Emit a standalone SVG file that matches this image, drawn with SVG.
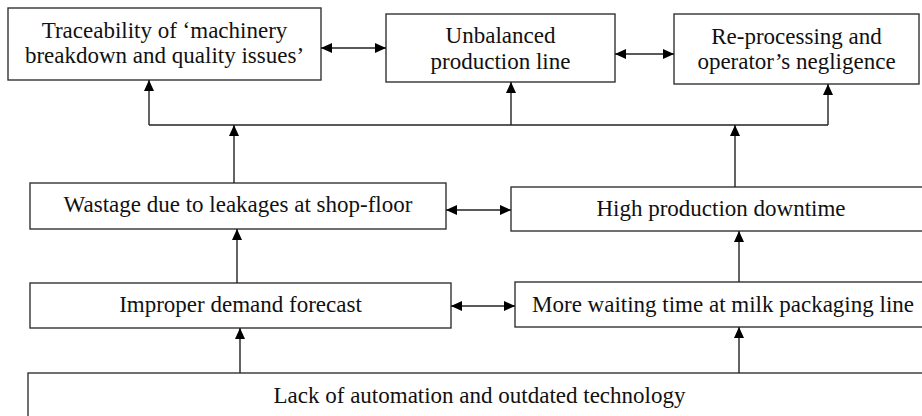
<svg xmlns="http://www.w3.org/2000/svg" width="922" height="416" viewBox="0 0 922 416">
  <defs>
    <marker id="ah" markerUnits="userSpaceOnUse" markerWidth="11" markerHeight="10" refX="11" refY="5" orient="auto-start-reverse">
      <path d="M0,0 L11,5 L0,10 Z" fill="#000"/>
    </marker>
  </defs>
  <style>
    .box { fill: #fff; stroke: #333; stroke-width: 1.4; }
    .lbl { font-family: "Liberation Serif", "Times New Roman", serif; font-size: 23px; fill: #111; text-anchor: middle; }
    .con { fill: none; stroke: #222; stroke-width: 1.4; }
    .arr { marker-end: url(#ah); }
    .bi { marker-start: url(#ah); marker-end: url(#ah); }
  </style>
  <rect width="922" height="416" fill="#fff"/>

  <g id="traceability">
    <rect class="box" x="8" y="8" width="313" height="72"/>
    <text class="lbl" x="164.5" y="38">Traceability of ‘machinery</text>
    <text class="lbl" x="164.5" y="63">breakdown and quality issues’</text>
  </g>
  <g id="unbalanced">
    <rect class="box" x="386" y="14" width="229" height="68"/>
    <text class="lbl" x="500.5" y="43">Unbalanced</text>
    <text class="lbl" x="500.5" y="69">production line</text>
  </g>
  <g id="reprocessing">
    <rect class="box" x="674" y="14" width="245" height="70"/>
    <text class="lbl" x="796.5" y="44">Re-processing and</text>
    <text class="lbl" x="796.5" y="69">operator’s negligence</text>
  </g>
  <g id="wastage">
    <rect class="box" x="30" y="183" width="416" height="46"/>
    <text class="lbl" x="238" y="212">Wastage due to leakages at shop-floor</text>
  </g>
  <g id="downtime">
    <rect class="box" x="511" y="187" width="420" height="44"/>
    <text class="lbl" x="721" y="216">High production downtime</text>
  </g>
  <g id="forecast">
    <rect class="box" x="30" y="283" width="421" height="45"/>
    <text class="lbl" x="240.5" y="312">Improper demand forecast</text>
  </g>
  <g id="waiting">
    <rect class="box" x="515" y="282" width="416" height="45"/>
    <text class="lbl" x="723" y="312">More waiting time at milk packaging line</text>
  </g>
  <g id="automation">
    <rect class="box" x="28" y="373" width="910" height="60"/>
    <text class="lbl" x="479.5" y="403">Lack of automation and outdated technology</text>
  </g>

  <g id="connectors">
    <path class="con bi" d="M321,48 H386"/>
    <path class="con bi" d="M615,54 H674"/>
    <path class="con" d="M149,125 H828"/>
    <path class="con arr" d="M149,125 V80"/>
    <path class="con arr" d="M511,125 V82"/>
    <path class="con arr" d="M828,125 V84"/>
    <path class="con arr" d="M234,183 V125"/>
    <path class="con arr" d="M735,187 V125"/>
    <path class="con bi" d="M446,210 H511"/>
    <path class="con arr" d="M237,283 V229"/>
    <path class="con arr" d="M739,282 V231"/>
    <path class="con bi" d="M451,306 H515"/>
    <path class="con arr" d="M240,373 V328"/>
    <path class="con arr" d="M739,373 V327"/>
  </g>
</svg>
